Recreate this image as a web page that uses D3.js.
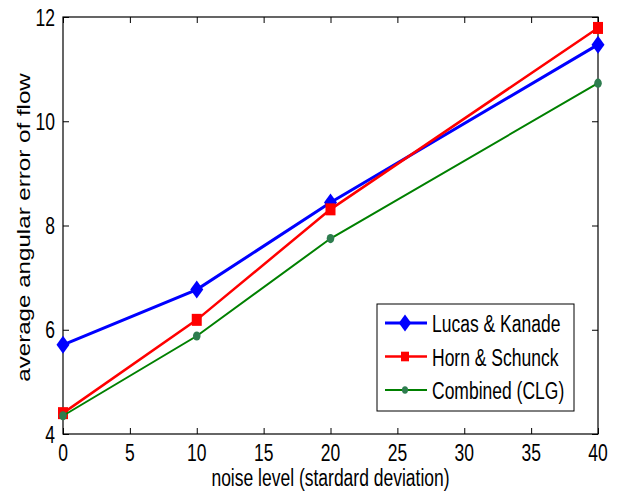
<!DOCTYPE html>
<html>
<head>
<meta charset="utf-8">
<script src="https://cdn.jsdelivr.net/npm/d3@7"></script>
<style>
  body { margin: 0; background: #fff; }
  text { font-family: "Liberation Sans", Arial, sans-serif; font-size: 17.5px; fill: #000; }
</style>
</head>
<body>
<div id="chart"></div>
<script>
// data
var noise = [0, 10, 20, 40];
var lucas = [5.71, 6.77, 8.44, 11.47];
var horn = [4.40, 6.19, 8.31, 11.79];
var clg = [4.35, 5.88, 7.75, 10.73];
var xTicks = [0, 5, 10, 15, 20, 25, 30, 35, 40];
var yTicks = [4, 6, 8, 10, 12];

var series = [
  {name: "Lucas & Kanade", values: lucas, color: "#0000ff", width: 3, marker: "diamond"},
  {name: "Horn & Schunck", values: horn, color: "#ff0000", width: 2.5, marker: "square"},
  {name: "Combined (CLG)", values: clg, color: "#008000", width: 2, marker: "dot"}
];

// the original picture is stretched vertically, so text is too
var stretch = 1.38;

// set the dimensions and margins of the graph
var margin = {top: 17, right: 22, bottom: 61, left: 63},
    width = 620 - margin.left - margin.right,
    height = 495 - margin.top - margin.bottom;

var svg = d3.select("#chart")
  .append("svg")
    .attr("width", 620)
    .attr("height", 495)
  .append("g")
    .attr("transform", "translate(" + margin.left + "," + margin.top + ")");

var x = d3.scaleLinear().domain([0, 40]).range([0, width]);
var y = d3.scaleLinear().domain([4, 12]).range([height, 0]);

// axes with inward ticks on all four sides, labels drawn separately
function styleAxis(g) {
  g.select(".domain").remove();
  g.selectAll(".tick line").attr("stroke", "#000");
  g.selectAll(".tick text").remove();
}
svg.append("g")
  .attr("transform", "translate(0," + height + ")")
  .call(d3.axisBottom(x).tickValues(xTicks).tickSizeInner(-6).tickSizeOuter(0))
  .call(styleAxis);
svg.append("g")
  .call(d3.axisTop(x).tickValues(xTicks).tickSizeInner(-6).tickSizeOuter(0))
  .call(styleAxis);
svg.append("g")
  .call(d3.axisLeft(y).tickValues(yTicks).tickSizeInner(-6).tickSizeOuter(0))
  .call(styleAxis);
svg.append("g")
  .attr("transform", "translate(" + width + ",0)")
  .call(d3.axisRight(y).tickValues(yTicks).tickSizeInner(-6).tickSizeOuter(0))
  .call(styleAxis);

svg.append("rect")
  .attr("width", width).attr("height", height)
  .attr("fill", "none").attr("stroke", "#000").attr("stroke-width", 1.2);

// tick labels
svg.selectAll(".xlab")
  .data(xTicks)
  .enter()
  .append("text")
    .attr("text-anchor", "middle")
    .attr("transform", function(d) { return "translate(" + x(d) + "," + (height + 27) + ") scale(1," + stretch + ")"; })
    .text(function(d) { return d; });
svg.selectAll(".ylab")
  .data(yTicks)
  .enter()
  .append("text")
    .attr("text-anchor", "end")
    .attr("transform", function(d) { return "translate(-8," + (y(d) + 8.5) + ") scale(1," + stretch + ")"; })
    .text(function(d) { return d; });

// lines
var line = d3.line()
  .x(function(d, i) { return x(noise[i]); })
  .y(function(d) { return y(d); });

function drawMarker(g, s, cx, cy, k) {
  if (s.marker == "diamond") {
    g.append("path")
      .attr("d", "M" + cx + "," + (cy - 9 * k) + "L" + (cx + 6.5 * k) + "," + cy + "L" + cx + "," + (cy + 9 * k) + "L" + (cx - 6.5 * k) + "," + cy + "Z")
      .attr("fill", s.color);
  } else if (s.marker == "square") {
    g.append("rect")
      .attr("x", cx - 5 * k).attr("y", cy - 6 * k).attr("width", 10 * k).attr("height", 12 * k)
      .attr("fill", s.color);
  } else {
    g.append("ellipse")
      .attr("cx", cx).attr("cy", cy).attr("rx", 3.8 * k).attr("ry", 4.6 * k)
      .attr("fill", "#2e7d4f");
  }
}

series.forEach(function(s) {
  svg.append("path")
    .datum(s.values)
    .attr("fill", "none")
    .attr("stroke", s.color)
    .attr("stroke-width", s.width)
    .attr("d", line);
  var g = svg.append("g");
  s.values.forEach(function(v, i) { drawMarker(g, s, x(noise[i]), y(v), 1); });
});

// legend
var lg = svg.append("g").attr("transform", "translate(" + (377 - margin.left) + "," + (304 - margin.top) + ")");
lg.append("rect")
  .attr("width", 197).attr("height", 107)
  .attr("fill", "#fff").attr("stroke", "#000").attr("stroke-width", 1);
series.forEach(function(s, i) {
  var ly = 19 + i * 33.5;
  lg.append("line")
    .attr("x1", 8).attr("x2", 50).attr("y1", ly).attr("y2", ly)
    .attr("stroke", s.color).attr("stroke-width", s.width);
  drawMarker(lg, s, 28, ly, s.marker == "diamond" ? 0.95 : 0.8);
  lg.append("text")
    .attr("transform", "translate(55," + (ly + 9) + ") scale(1," + stretch + ")")
    .text(s.name);
});

// axis labels
svg.append("text")
  .attr("text-anchor", "middle")
  .attr("transform", "translate(" + (width / 2) + "," + (height + 52) + ") scale(1," + stretch + ")")
  .text("noise level (stardard deviation)");
svg.append("text")
  .attr("text-anchor", "middle")
  .attr("transform", "translate(" + (30 - margin.left) + "," + (height / 2 + 2) + ") scale(1," + stretch + ") rotate(-90)")
  .text("average angular error of flow");
</script>
</body>
</html>
